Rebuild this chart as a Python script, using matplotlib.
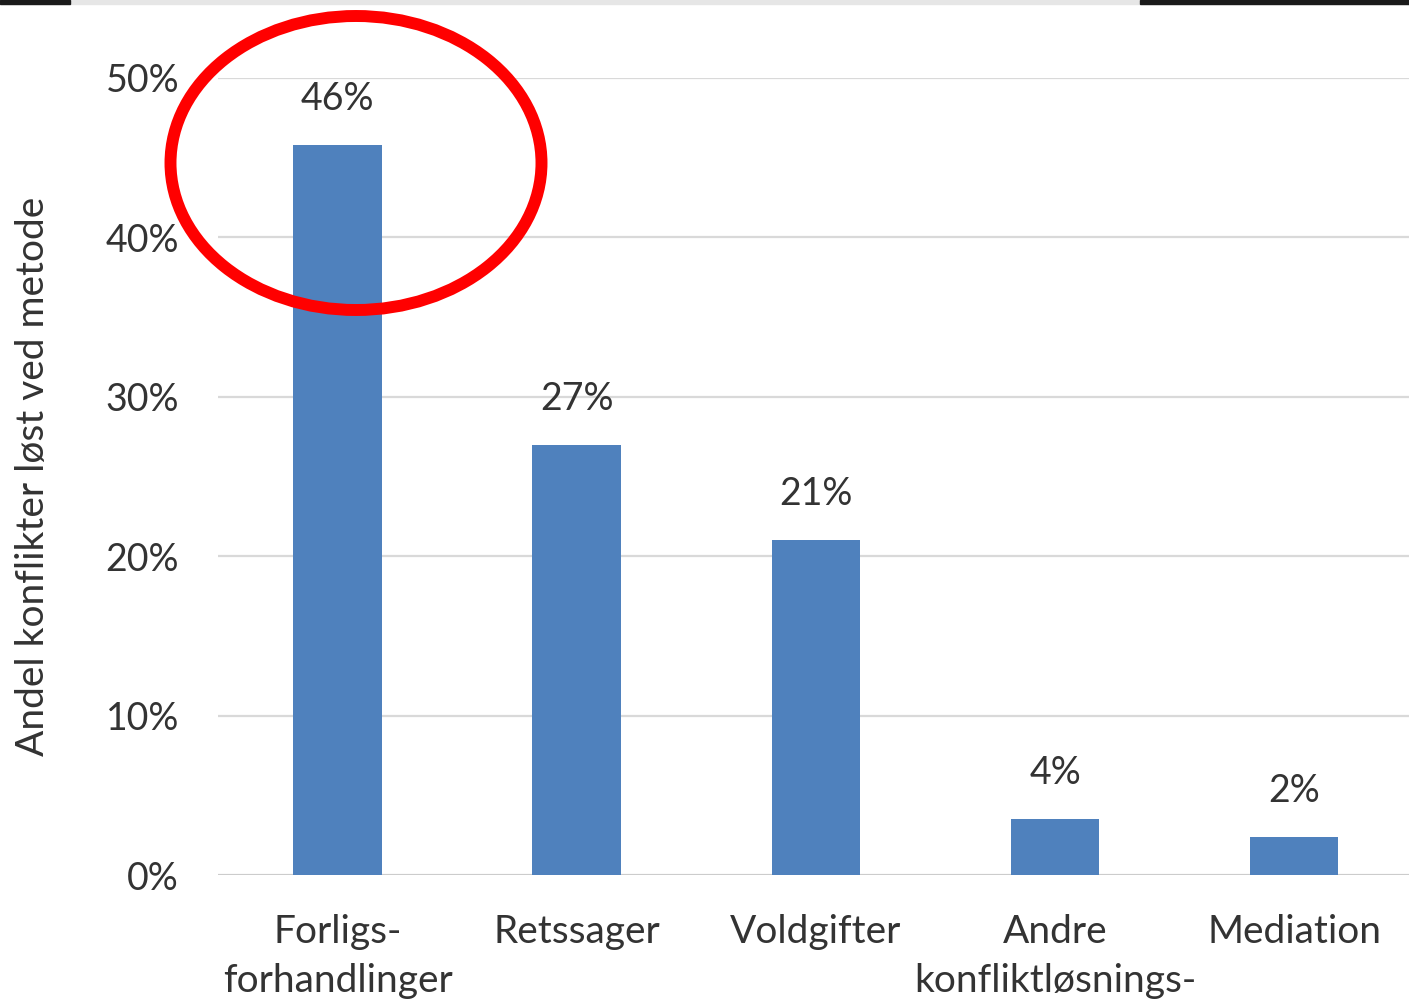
import matplotlib.pyplot as plt
from matplotlib.patches import Ellipse, Rectangle

# Data
categories = ["Forligs-\nforhandlinger", "Retssager", "Voldgifter",
              "Andre\nkonfliktløsnings-", "Mediation"]
values = [45.8, 27.0, 21.0, 3.5, 2.4]
value_labels = ["46%", "27%", "21%", "4%", "2%"]
y_ticks = [0, 10, 20, 30, 40, 50]

plt.rcParams['font.family'] = ['Lato', 'DejaVu Sans']
text_color = '#333333'

fig = plt.figure(figsize=(14.09, 10.06), dpi=100)
ax = fig.add_axes([0.1547, 0.1302, 0.8453, 0.7923])

x = range(len(categories))
bars = ax.bar(x, values, width=0.37, color='#4F81BD', zorder=3)

for b, lab in zip(bars, value_labels):
    ax.annotate(lab, (b.get_x() + b.get_width() / 2, b.get_height()),
                xytext=(0, 33), textcoords='offset points',
                ha='center', va='center', fontsize=27, color=text_color)

ax.set_xlim(-0.5, 4.48)
ax.set_ylim(0, 50)
ax.set_yticks(y_ticks)
ax.set_yticklabels([f"{t}%" for t in y_ticks], fontsize=27, color=text_color)
ax.set_xticks(list(x))
ax.set_xticklabels(categories, fontsize=28, color=text_color, linespacing=1.45)
ax.tick_params(axis='y', length=0, pad=28)
ax.tick_params(axis='x', length=0, pad=28)

ax.grid(axis='y', color='#D9D9D9', linewidth=1.6, zorder=0)
for s in ax.spines.values():
    s.set_visible(False)
ax.axhline(0, color='#C8C8C8', linewidth=1.8, zorder=2)

ax.set_ylabel("Andel konflikter løst ved metode", fontsize=28, color=text_color)
ax.yaxis.set_label_coords(-0.14, 0.5)

# red highlight ring
fig.patches.append(Ellipse((356 / 1409, 1 - 163 / 1006), 371 / 1409, 294 / 1006,
                           transform=fig.transFigure, fill=False,
                           edgecolor='#FF0000', linewidth=8.6, zorder=10))

# strip of the screenshot at the top edge
fig.patches.append(Rectangle((0, 1 - 4 / 1006), 1, 4 / 1006, transform=fig.transFigure,
                             color='#E6E6E6', zorder=11))
fig.patches.append(Rectangle((0, 1 - 4 / 1006), 70 / 1409, 4 / 1006, transform=fig.transFigure,
                             color='#1a1a1a', zorder=12))
fig.patches.append(Rectangle((1140 / 1409, 1 - 4 / 1006), 269 / 1409, 4 / 1006,
                             transform=fig.transFigure, color='#1a1a1a', zorder=12))

fig.savefig("out.png", dpi=100)
